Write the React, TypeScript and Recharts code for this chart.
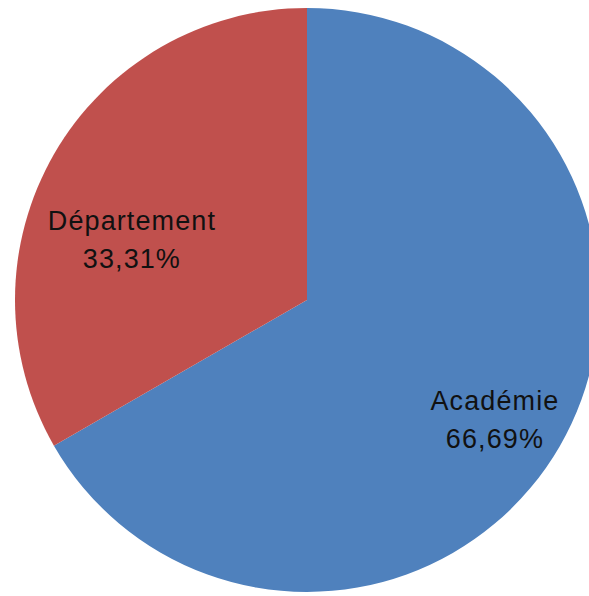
import React from "react";
import { PieChart, Pie, Cell } from "recharts";

const categories = ["Académie", "Département"];
const values = [66.69, 33.31];
const valueLabels = ["66,69%", "33,31%"];

const COLORS = ["#4F81BD", "#C0504D"];
// label placement style: angle offset (deg) from slice mid-angle and radius fraction
const LABEL_ANGLE_OFFSET = [-2.55, 11.1];
const LABEL_RADIUS_FRAC = [0.764, 0.634];

const data = categories.map((name, i) => ({ name, value: values[i], pct: valueLabels[i] }));

const RADIAN = Math.PI / 180;

const renderLabel = (props: any) => {
  const { cx, cy, midAngle, outerRadius, index } = props;
  const ang = (midAngle + LABEL_ANGLE_OFFSET[index]) * RADIAN;
  const r = outerRadius * LABEL_RADIUS_FRAC[index];
  const x = cx + r * Math.cos(ang);
  const y = cy - r * Math.sin(ang);
  return (
    <text
      x={x}
      y={y}
      textAnchor="middle"
      fill="#111"
      fontSize={27}
      fontFamily="'Liberation Sans', Arial, sans-serif"
      letterSpacing={1.1}
    >
      <tspan x={x} y={y - 19} dominantBaseline="central">{data[index].name}</tspan>
      <tspan x={x} y={y + 19} dominantBaseline="central">{data[index].pct}</tspan>
    </text>
  );
};

export default function App() {
  return (
    <div
      style={{
        position: "fixed",
        top: 0,
        left: 0,
        width: 589,
        height: 596,
        overflow: "hidden",
        background: "#fff",
      }}
    >
      <PieChart
        width={589}
        height={596}
        margin={{ top: 0, right: 0, bottom: 0, left: 0 }}
      >
        <Pie
          data={data}
          dataKey="value"
          nameKey="name"
          cx={307}
          cy={300}
          outerRadius={292}
          startAngle={90}
          endAngle={-270}
          stroke="none"
          label={renderLabel}
          labelLine={false}
          isAnimationActive={false}
        >
          {data.map((d, i) => (
            <Cell key={d.name} fill={COLORS[i]} />
          ))}
        </Pie>
      </PieChart>
    </div>
  );
}
